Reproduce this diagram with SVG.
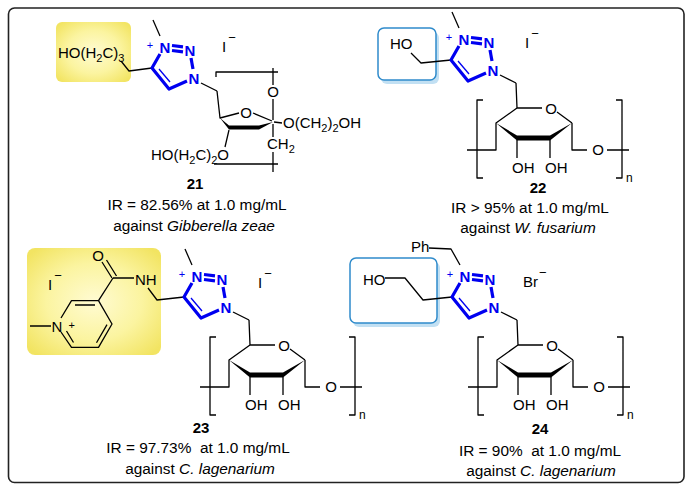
<svg xmlns="http://www.w3.org/2000/svg" xmlns:xlink="http://www.w3.org/1999/xlink" width="693" height="491" viewBox="0 0 693 491">
<defs>
<style>
.b{fill:none;stroke:#000;stroke-width:1.3;stroke-linejoin:round}
.tb{fill:none;stroke:#0000f0;stroke-width:3.2;stroke-linejoin:round}
.tt{fill:none;stroke:#0000f0;stroke-width:1.3}
text{font-family:"Liberation Sans",Arial,sans-serif;fill:#000}
.a{font-size:15px}
.n{font-size:15px;font-weight:bold;fill:#0000f0;text-anchor:middle}
.p{font-size:11px;fill:#0000f0;text-anchor:middle}
.c{font-size:15px;text-anchor:middle}
.lab{font-size:15.4px;text-anchor:middle}
.num{font-size:15px;font-weight:bold;text-anchor:middle}
.i{font-style:italic}
.s{font-size:11px}
.ybox{fill:url(#yg)}
.bbox{fill:#fff;stroke:#2f8bcb;stroke-width:1.5}
.bsh{fill:#c2e0f3}
</style>
<radialGradient id="yg" cx="50%" cy="50%" r="65%">
<stop offset="0" stop-color="#fffbd2"/>
<stop offset="0.55" stop-color="#fbf4a0"/>
<stop offset="1" stop-color="#f2e462"/>
</radialGradient>
<g id="tri">
<path class="tb" d="M8,-14 L0,0 L17,21 L35,13"/>
<path class="tb" d="M39,-10 L41,1"/>
<path class="tb" d="M20,-22.5 L31,-21.2 M20,-17.5 L31,-16.2"/>
<path class="tt" d="M7,1 L18,14"/>
<path class="b" d="M49,15 L65,23"/>
<text class="n" x="13" y="-15.5">N</text>
<text class="n" x="38" y="-12">N</text>
<text class="n" x="42" y="15.5">N</text>
<text class="p" x="-2" y="-19.5">+</text>
</g>
<g id="pyr">
<path class="b" d="M-1,-25 L0,0 L25,0 M40,4 L55,15 M0,0 L-21,15 V42 H-50 M55,15 V42 H70 M90,42 H112 M0,32 V50 M33,32 V50 M-34,-8 H-40 V70 H-34 M99,-8 H105 V70 H99"/>
<polygon points="-21,15 0,27.5 33,27.5 55,15 33,32.5 0,32.5"/>
<text class="c" x="34" y="6.4">O</text>
<text class="c" x="81" y="47.4">O</text>
<text class="a" x="-5" y="65">OH</text>
<text class="a" x="28" y="65">OH</text>
<text x="109" y="74" font-size="12">n</text>
</g>
</defs>
<rect x="8.5" y="8" width="675.5" height="474.5" rx="6" fill="#fff" stroke="#222" stroke-width="1.6"/>

<g id="c21">
<rect class="ybox" x="56" y="22" width="75" height="60" rx="6"/>
<text class="a" x="58" y="58">HO(H<tspan class="s" dy="4">2</tspan><tspan dy="-4">C)</tspan><tspan class="s" dy="4">3</tspan></text>
<path class="b" d="M152,68 L129,71 L121,61"/>
<path class="b" d="M153,20 L160,36"/>
<use xlink:href="#tri" href="#tri" x="152" y="68"/>
<text class="a" x="222" y="52">I<tspan font-size="13" dx="2" dy="-10">−</tspan></text>
<path class="b" d="M217,91 L220,118 L239,113 M253,113 L272,121 M229,130 L225,147 M274,122 L282,123 M273,120 V99 M273,85 V68 M216,77 V72 H278 M273,124 V137 M273,152 V172 M214,164 H278"/>
<polygon points="220,118 229,125.5 259,125.5 273,122 259,129.5 229,129.5"/>
<text class="c" x="246" y="117.5">O</text>
<text class="c" x="273" y="96.5">O</text>
<text class="a" x="283" y="128">O(CH<tspan class="s" dy="4">2</tspan><tspan dy="-4">)</tspan><tspan class="s" dy="4">2</tspan><tspan dy="-4">OH</tspan></text>
<text class="a" x="267" y="149">CH<tspan class="s" dy="4">2</tspan></text>
<text class="a" text-anchor="end" x="229" y="160">HO(H<tspan class="s" dy="4">2</tspan><tspan dy="-4">C)</tspan><tspan class="s" dy="4">2</tspan><tspan dy="-4">O</tspan></text>
<text class="num" x="195" y="189">21</text>
<text class="lab" x="197" y="210">IR = 82.56% at 1.0 mg/mL</text>
<text class="lab" x="194" y="231">against <tspan class="i">Gibberella zeae</tspan></text>
</g>

<g id="c22">
<rect class="bsh" x="381" y="32" width="58" height="52" rx="6"/>
<rect class="bbox" x="378" y="28" width="58" height="52" rx="6"/>
<text class="a" x="390" y="49">HO</text>
<path class="b" d="M411,53 L421,63 L451,60"/>
<path class="b" d="M452,12 L459,28"/>
<use xlink:href="#tri" href="#tri" x="451" y="60"/>
<text class="a" x="525" y="48">I<tspan font-size="13" dx="2" dy="-10">−</tspan></text>
<use xlink:href="#pyr" href="#pyr" x="517" y="108"/>
<text class="num" x="538" y="193">22</text>
<text class="lab" x="530" y="213">IR &gt; 95% at 1.0 mg/mL</text>
<text class="lab" x="528" y="233">against <tspan class="i">W. fusarium</tspan></text>
</g>

<g id="c23">
<rect class="ybox" x="27" y="248" width="134" height="107" rx="8"/>
<text class="a" x="48" y="290">I<tspan font-size="13" dx="2" dy="-10">−</tspan></text>
<text class="c" x="98" y="261">O</text>
<path class="b" d="M102,262 L112,278 M106.5,260 L116.5,276 M113,278 H134 M148,288 L157,300 L184,297 M113,278 L98.5,300.6"/>
<text class="a" x="135" y="285">NH</text>
<path class="b" d="M61,318 L71.5,300.6 L98.5,300.6 L112,324 L98.5,347.4 L71.5,347.4 L61,332 M75,305 H95 M107,324.6 L96.5,342.8 M73.5,342.5 L66.5,331 M30,326 H51"/>
<text class="c" x="57" y="331.5">N</text>
<text x="71.7" y="328.6" font-size="11" text-anchor="middle">+</text>
<path class="b" d="M185,249 L192,265"/>
<use xlink:href="#tri" href="#tri" x="184" y="297"/>
<text class="a" x="258" y="288">I<tspan font-size="13" dx="2" dy="-10">−</tspan></text>
<use xlink:href="#pyr" href="#pyr" x="250" y="345"/>
<text class="num" x="201" y="433">23</text>
<text class="lab" x="198" y="453" xml:space="preserve">IR = 97.73%  at 1.0 mg/mL</text>
<text class="lab" x="200" y="474">against <tspan class="i">C. lagenarium</tspan></text>
</g>

<g id="c24">
<rect class="bsh" x="353" y="262" width="87" height="65" rx="6"/>
<rect class="bbox" x="350" y="258" width="87" height="65" rx="6"/>
<text class="a" x="363" y="285">HO</text>
<path class="b" d="M385,278 H405 L423,300 L452,297"/>
<text class="a" x="411" y="252">Ph</text>
<path class="b" d="M429,248 L451,249 L460,265"/>
<use xlink:href="#tri" href="#tri" x="452" y="297"/>
<text class="a" x="523" y="287">Br<tspan font-size="13" dx="1" dy="-10">−</tspan></text>
<use xlink:href="#pyr" href="#pyr" x="518" y="345"/>
<text class="num" x="540" y="434">24</text>
<text class="lab" x="540" y="456" xml:space="preserve">IR = 90%  at 1.0 mg/mL</text>
<text class="lab" x="541" y="476">against <tspan class="i">C. lagenarium</tspan></text>
</g>
</svg>
